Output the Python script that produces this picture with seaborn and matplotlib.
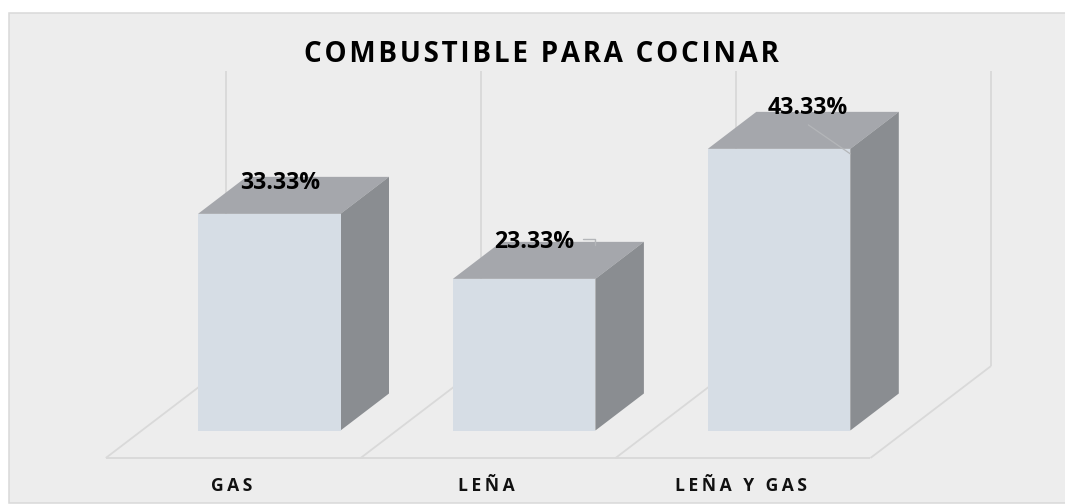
import matplotlib
matplotlib.use("Agg")
import matplotlib.pyplot as plt
from matplotlib.patches import Polygon, Rectangle
import seaborn as sns

categories = ["GAS", "LEÑA", "LEÑA Y GAS"]
values = [33.33, 23.33, 43.33]
value_labels = ["33.33%", "23.33%", "43.33%"]
title = "COMBUSTIBLE PARA COCINAR"

W, H = 1065, 504
PANEL, BORDER, GRID = "#ededed", "#d9d9d9", "#d9d9d9"
FRONT, TOP, SIDE = "#d6dde5", "#a5a7ac", "#8a8d91"
HAIR, THIN = "\u200a", "\u2009"

sns.set_theme(style="white")
plt.rcParams["font.family"] = ["Open Sans", "DejaVu Sans"]
fig = plt.figure(figsize=(W / 100, H / 100), dpi=100, facecolor="white")

# panel
fig.patches.append(Rectangle((8.5 / W, 1 - 503 / H), (W + 5 - 8.5) / W, (503 - 12.5) / H,
                             transform=fig.transFigure, facecolor=PANEL, edgecolor=BORDER, lw=1.1, zorder=-5))

# axes: baseline of the bars sits at pixel row 430.5
STEP, UNIT = 254.9, 6.5           # pixels per category, pixels per percent
ax_l, ax_r, base_px, ax_top = 8.0, 1060.0, 430.5, 12.0
ax = fig.add_axes([ax_l / W, 1 - base_px / H, (ax_r - ax_l) / W, (base_px - ax_top) / H])
ax.patch.set_alpha(0)
x0_px = 269.25

sns.barplot(x=list(range(len(categories))), y=values, native_scale=True, color=FRONT, saturation=1,
            width=142.5 / STEP, ax=ax, zorder=4, linewidth=0)
ax.set_xlim((ax_l - x0_px) / STEP, (ax_r - x0_px) / STEP)
ax.set_ylim(0, (base_px - ax_top) / UNIT)

# oblique projection: depth d = 1 is the back of a bar
DX, DY = 48.5 / STEP, 37 / UNIT
def proj(x, v, d):
    return (x + d * DX, v + d * DY)

D_FRONT, D_BACK, WALL_TOP = -0.743, 1.743, 45.4
n = len(categories)
lkw = dict(color=GRID, lw=1.3, zorder=1, clip_on=False, solid_capstyle="butt")
fx = [proj(-0.5, 0, D_FRONT)[0], proj(n - 0.5, 0, D_FRONT)[0]]
fy = proj(0, 0, D_FRONT)[1]
ax.plot(fx, [fy, fy], **lkw)
for i in range(n + 1):
    a, b = proj(i - 0.5, 0, D_FRONT), proj(i - 0.5, 0, D_BACK)
    ax.plot([a[0], b[0]], [a[1], b[1]], **lkw)
    ax.plot([b[0], b[0]], [b[1], b[1] + WALL_TOP], **lkw)

# bar depth faces
hw = 142.5 / STEP / 2
for i, v in enumerate(values):
    l, r = i - hw, i + hw
    ax.add_patch(Polygon([proj(l, v, 0), proj(r, v, 0), proj(r, v, 1), proj(l, v, 1)],
                         closed=True, fc=TOP, ec="none", zorder=3, clip_on=False))
    ax.add_patch(Polygon([proj(r, 0, 0), proj(r, v, 0), proj(r, v, 1), proj(r, 0, 1)],
                         closed=True, fc=SIDE, ec="none", zorder=3, clip_on=False))

# small leader lines of the value labels
LEADER = "#b4b6b9"
r1, v1 = 1 + hw, values[1]
ax.plot([r1 - 12 / STEP, r1, r1], [v1 + 40 / UNIT, v1 + 40 / UNIT, v1 + 34 / UNIT],
        color=LEADER, lw=1, zorder=5, clip_on=False)
r2, v2 = 2 + hw, values[2]
ax.plot([r2 - 42 / STEP, r2], [v2 + 24 / UNIT, v2 - 5 / UNIT], color=LEADER, lw=0.9, zorder=5, clip_on=False)

# value labels (offsets in pixels, from the top-centre of each bar)
offsets = [(10.5, 31), (10.5, 36.5), (29, 41)]
for i, (v, s, (ox, oy)) in enumerate(zip(values, value_labels, offsets)):
    ax.annotate(s, (i, v), xytext=(ox * 0.72, oy * 0.72), textcoords="offset points",
                ha="center", va="center", fontsize=16.7, fontweight="bold", color="black",
                zorder=6, annotation_clip=False)

# category labels sit under the middle of each floor cell
ax.set_xticks([proj(i, 0, D_FRONT)[0] - 2 / STEP for i in range(n)])
ax.set_xticklabels([THIN.join(c) for c in categories], fontsize=12.6, fontweight="bold", color="#111111")
ax.tick_params(axis="x", length=0, pad=33.5)
ax.set_yticks([])
ax.set_xlabel("")
ax.set_ylabel("")
sns.despine(ax=ax, left=True, bottom=True, top=True, right=True)

fig.text(541.5 / W, 1 - 54.5 / H, HAIR.join(title), ha="center", va="center",
         fontsize=20, fontweight="bold", color="black")

fig.savefig("out.png", dpi=100, facecolor="white")
